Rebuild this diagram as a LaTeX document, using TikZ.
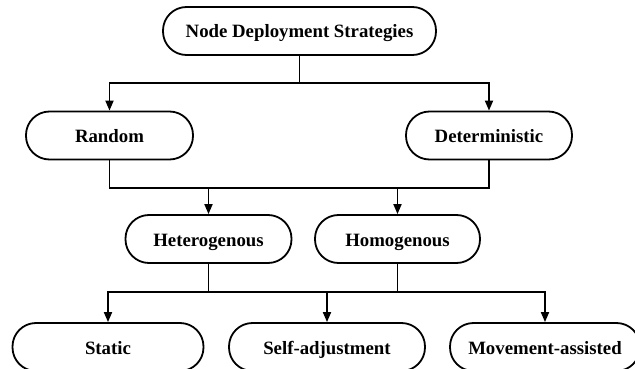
\documentclass[tikz,border=0pt]{standalone}
\usepackage{fontspec}
\setmainfont{Liberation Serif}
\usetikzlibrary{arrows.meta}
\begin{document}
\begin{tikzpicture}[x=1pt,y=-1pt,
  box/.style={draw, line width=1.8pt, rounded corners=23.5pt, minimum height=48pt, inner sep=0pt,
    text height=14pt, text depth=0pt,
    font=\fontsize{18.8}{22}\selectfont\bfseries, fill=white},
  conn/.style={line width=1.8pt},
  arr/.style={conn, -{Triangle[length=10pt,width=8pt]}}]
\useasboundingbox (0,0) rectangle (635,369);
\clip (0,0) rectangle (635,369);
\node[box, minimum width=273pt] (top) at (299.5,31) {Node Deployment Strategies};
\node[box, minimum width=167pt] (rand) at (109.5,135.5) {Random};
\node[box, minimum width=166pt] (det) at (489,135.5) {Deterministic};
\node[box, minimum width=166pt] (het) at (208.5,239) {Heterogenous};
\node[box, minimum width=165pt] (hom) at (397.5,239) {Homogenous};
\node[box, minimum width=191pt] (stat) at (108,347) {Static};
\node[box, minimum width=196pt] (self) at (327,347) {Self-adjustment};
\node[box, minimum width=190pt] (mov) at (545,347) {Movement-assisted};
\coordinate (j1) at (299.5,83);
\coordinate (m1) at (300,188);
\coordinate (m2) at (327,292);
\draw[conn] (top.south) -- (j1);
\draw[arr] (j1) -| (rand.north);
\draw[arr] (j1) -| (det.north);
\draw[conn] (rand.south) |- (m1) -| (det.south);
\draw[arr] (het.north |- m1) -- (het.north);
\draw[arr] (hom.north |- m1) -- (hom.north);
\draw[conn] (het.south) |- (m2) -| (hom.south);
\draw[arr] (m2) -| (stat.north);
\draw[arr] (m2) -| (mov.north);
\draw[arr] (m2) -- (self.north);
\end{tikzpicture}
\end{document}
